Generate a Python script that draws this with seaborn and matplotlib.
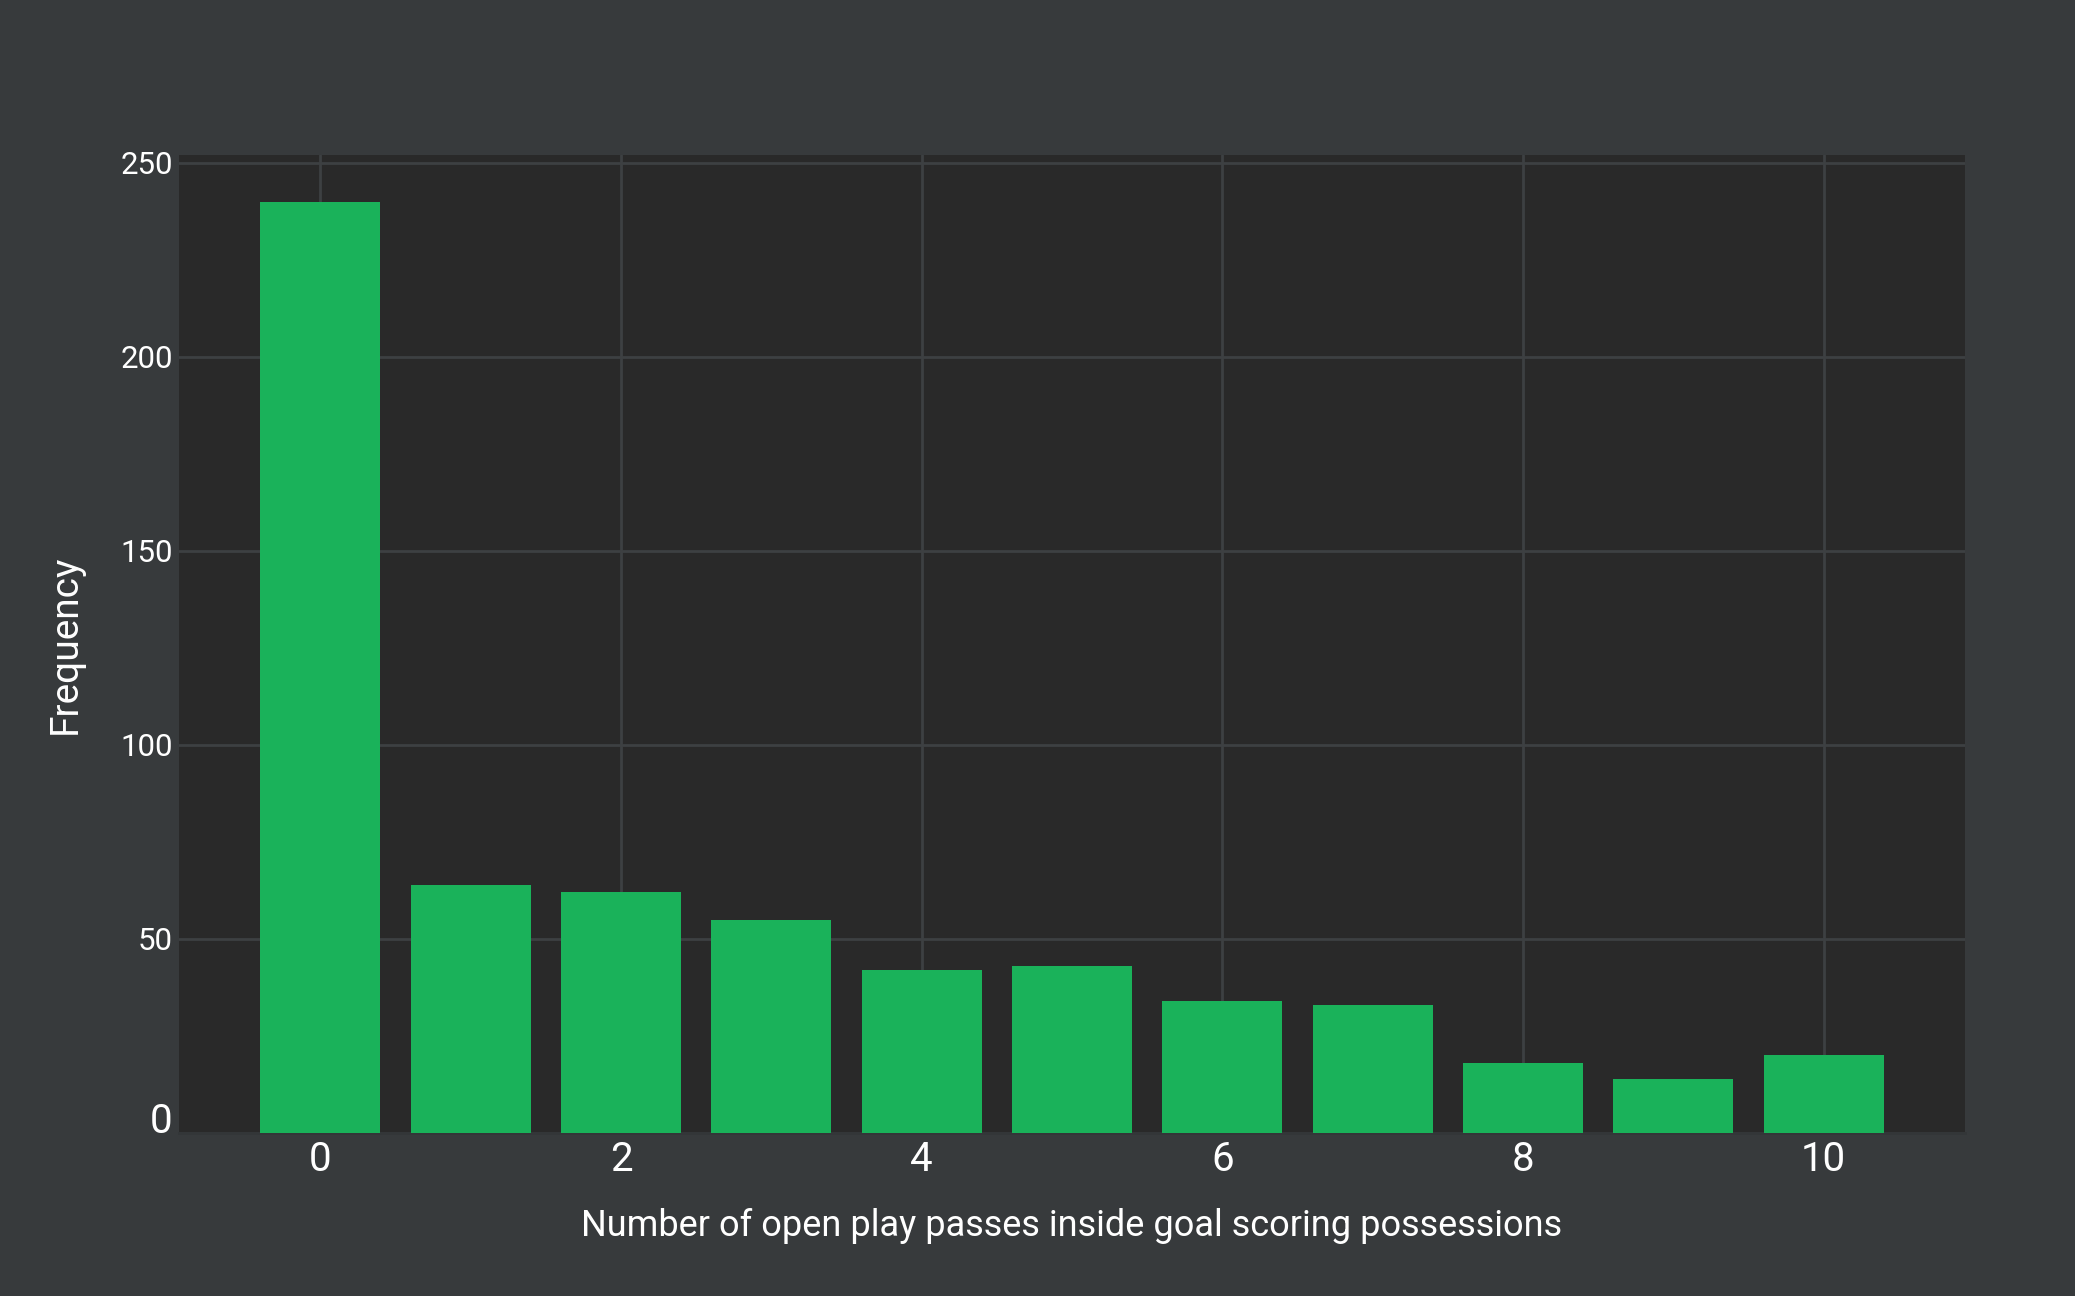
import matplotlib
matplotlib.use("Agg")
import matplotlib.pyplot as plt
import seaborn as sns
import pandas as pd

passes = [0, 1, 2, 3, 4, 5, 6, 7, 8, 9, 10]
frequency = [240, 64, 62, 55, 42, 43, 34, 33, 18, 14, 20]
x_ticks = [0, 2, 4, 6, 8, 10]
y_ticks = [0, 50, 100, 150, 200, 250]
x_label = "Number of open play passes inside goal scoring possessions"
y_label = "Frequency"

BG = "#373a3c"
AX_BG = "#292929"
BAR = "#1ab25a"
GRID = "#3d4042"

sns.set_style("dark")
plt.rcParams["font.family"] = ["Roboto", "DejaVu Sans"]

df = pd.DataFrame({"passes": passes, "frequency": frequency})

fig = plt.figure(figsize=(20.75, 12.96), dpi=100, facecolor=BG)
ax = fig.add_axes([179 / 2075, 1 - 1133 / 1296, (1965 - 179) / 2075, (1133 - 155) / 1296])
ax.set_facecolor(AX_BG)

sns.barplot(data=df, x="passes", y="frequency", native_scale=True, width=0.8,
            color=BAR, saturation=1, linewidth=0, ax=ax, zorder=3)

ax.set_xlim(-0.94, 10.94)
ax.set_ylim(0, 252)
ax.set_xticks(x_ticks)
ax.set_yticks(y_ticks)
ax.grid(True, color=GRID, linewidth=2, zorder=0)
ax.set_axisbelow(True)
for s in ax.spines.values():
    s.set_visible(False)
ax.spines["bottom"].set_visible(True)
ax.spines["bottom"].set_color("#333638")
ax.spines["bottom"].set_linewidth(2)

ax.tick_params(axis="x", colors=GRID, labelcolor="white", labelsize=29, length=4, width=1.5, pad=1)
ax.tick_params(axis="y", colors=GRID, labelcolor="white", labelsize=22.5, length=3, width=1.5, pad=1.5)
ax.set_xticklabels([str(t) for t in x_ticks])
ax.set_yticklabels([str(t) for t in y_ticks])
for lab in ax.get_yticklabels():
    if lab.get_text() == "0":
        lab.set_fontsize(29)
        lab.set_va("baseline")

ax.set_xlabel(x_label, color="white", fontsize=26, labelpad=21)
ax.set_ylabel(y_label, color="white", fontsize=28, labelpad=26)

fig.savefig("out.png", dpi=100, facecolor=BG)
